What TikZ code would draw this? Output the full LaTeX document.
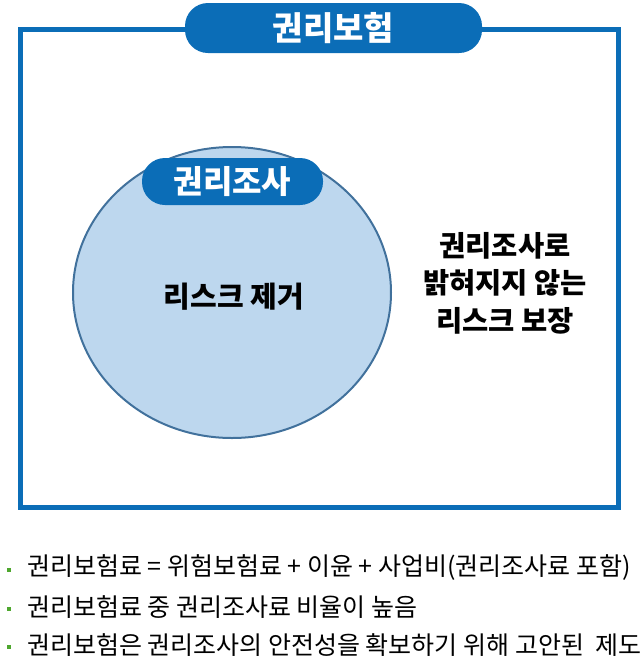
\documentclass[tikz,border=0pt]{standalone}
\usepackage{fontspec}
\setmainfont{Noto Sans CJK KR}
\usepackage{xcolor}
\definecolor{frameblue}{HTML}{0B6DB7}
\definecolor{circfill}{HTML}{BDD7EE}
\definecolor{circline}{HTML}{41719C}
\definecolor{bulletgreen}{HTML}{4EA72E}
\usetikzlibrary{shapes.geometric}

\begin{document}
\begin{tikzpicture}[x=1pt,y=-1pt,
  pill/.style={fill=frameblue,rounded corners=23pt,text=white,inner sep=0pt,
               font=\bfseries\fontsize{32}{32}\selectfont},
  big/.style={font=\bfseries\fontsize{28.5}{37.5}\selectfont,align=center},
  item/.style={anchor=west,inner sep=0pt,font=\fontsize{25}{25}\selectfont},
  dot/.style={fill=bulletgreen,minimum size=4.5pt,inner sep=0pt}]
  \useasboundingbox (0,0) rectangle (644,662);
  \node[draw=frameblue,line width=5pt,minimum width=598pt,minimum height=477.5pt,
        inner sep=0pt] (frame) at (319.5,268.25) {};
  \node[pill,minimum width=297pt,minimum height=50pt,
        font=\bfseries\fontsize{33}{33}\selectfont] (title) at (333.5,28) {권리보험};
  \node[ellipse,draw=circline,fill=circfill,line width=2pt,inner sep=0pt,
        minimum width=318pt,minimum height=291pt] (survey) at (232,292.5) {};
  \node[pill,minimum width=181pt,minimum height=47pt] (surveytag) at (232.5,181.5) {권리조사};
  \node[big,font=\bfseries\fontsize{29}{29}\selectfont] (removal) at (234,297) {리스크 제거};
  \node[big] (cover) at (505,283) {권리조사로\\밝혀지지 않는\\리스크 보장};
  % bullet points
  \node[item] (l1) at (27,568) {권리보험료 = 위험보험료 + 이윤 + 사업비(권리조사료 포함)};
  \node[item] (l2) at (27,607) {권리보험료 중 권리조사료 비율이 높음};
  \node[item] (l3) at (27,645) {권리보험은 권리조사의 안전성을 확보하기 위해 고안된\ \ 제도};
  \node[dot] (d1) at (9,570) {};
  \node[dot] (d2) at (9,609) {};
  \node[dot] (d3) at (9,647) {};
\end{tikzpicture}
\end{document}
